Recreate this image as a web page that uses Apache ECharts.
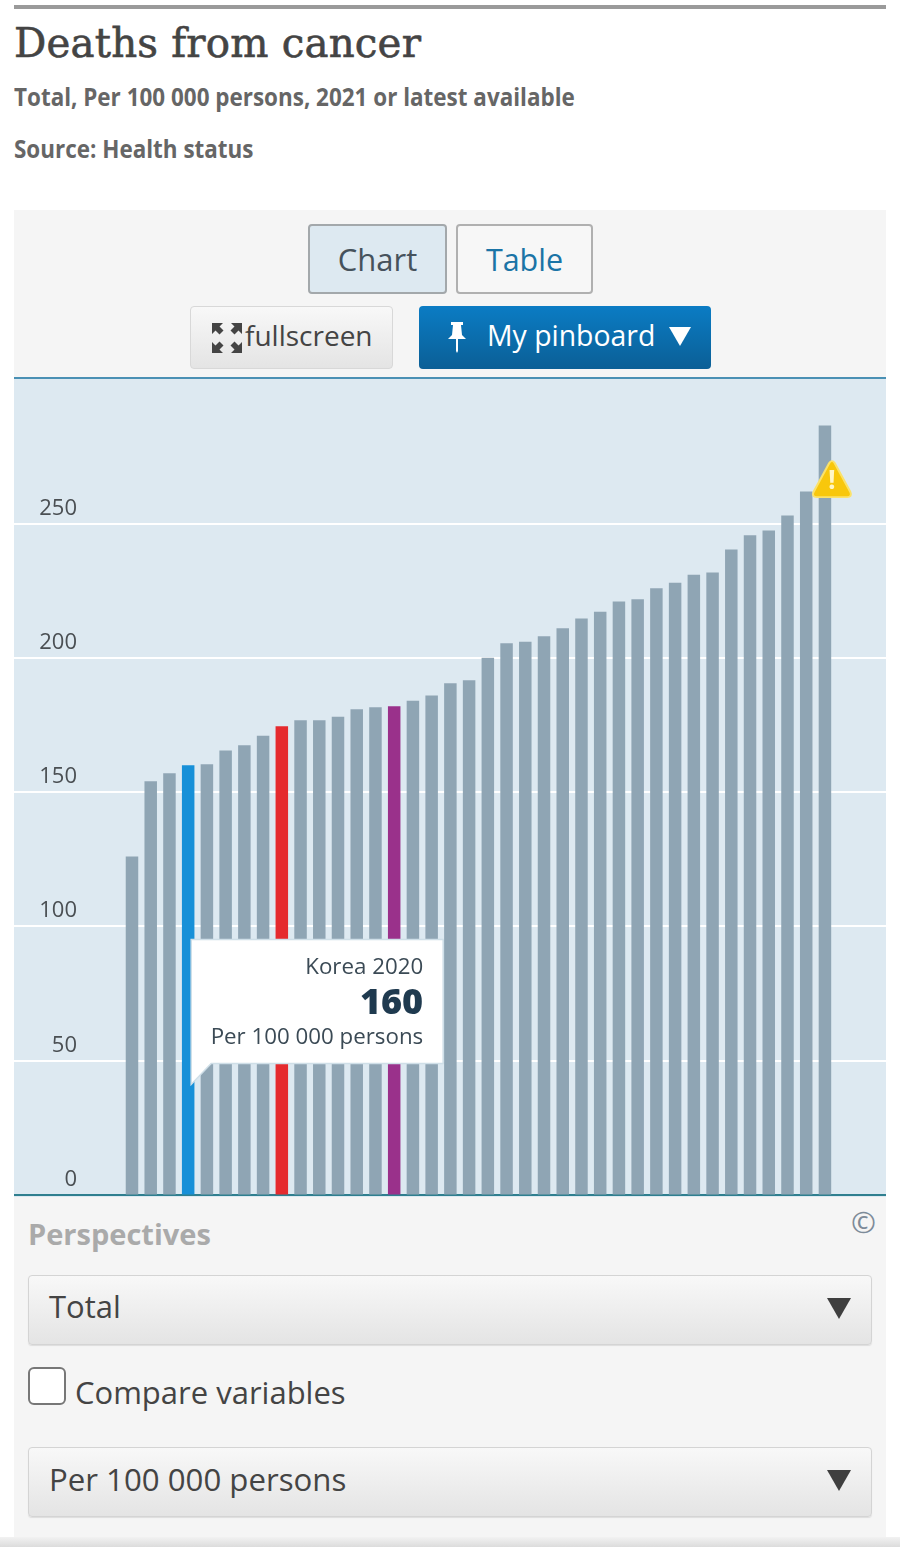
<!DOCTYPE html>
<html><head><meta charset="utf-8">
<script src="https://cdn.jsdelivr.net/npm/echarts@6/dist/echarts.min.js"></script>
<style>
html,body{margin:0;padding:0;background:#fff;width:900px;height:1562px;overflow:hidden;font-family:"Open Sans",sans-serif}
.a{position:absolute;box-sizing:border-box}
.t{position:absolute;white-space:nowrap;line-height:1}
.sub{font-weight:700;font-size:24.5px;color:#666;transform:scaleX(.916);transform-origin:left center}
.btn{display:flex;align-items:center;justify-content:center;white-space:nowrap}
.sel{left:28px;width:844px;height:70px;border:1px solid #d4d4d4;border-radius:4px;background:linear-gradient(#f8f8f8,#e4e4e4);box-shadow:0 1px 1px #ddd}
.arrow{position:absolute;width:0;height:0;border-left:12px solid transparent;border-right:12px solid transparent;border-top:21px solid #3f3f3f}
</style></head><body>
<div class="a" style="left:14px;top:5px;width:872px;height:4px;background:#9a9a9a"></div>
<div class="t" style="left:14px;top:24px;font-family:'DejaVu Serif';font-size:40.3px;color:#444;letter-spacing:0.2px;-webkit-text-stroke:0.6px #444">Deaths from cancer</div>
<div class="t sub" style="left:14px;top:85px">Total, Per 100 000 persons, 2021 or latest available</div>
<div class="t sub" style="left:14px;top:137px">Source: Health status</div>

<div class="a" style="left:14px;top:210px;width:872px;height:1327px;background:#f5f5f5"></div>
<div class="a btn" style="left:308px;top:224px;width:139px;height:70px;background:#dde9f1;border:2px solid #a3a8ab;border-radius:4px;font-size:31px;color:#46525c">Chart</div>
<div class="a btn" style="left:456px;top:224px;width:137px;height:70px;background:#f7f7f7;border:2px solid #b0b0b0;border-radius:4px;font-size:30.500px;color:#1b74a6">Table</div>
<div class="a" style="left:190px;top:306px;width:203px;height:63px;background:linear-gradient(#f8f8f8,#e4e4e4);border:1px solid #d8d8d8;border-radius:4px"></div>
<svg class="a" style="left:211px;top:322px" width="32" height="32" viewBox="0 0 32 32" fill="#444"><path d="M1 1h11L8.5 4.5l4 4-4 4-4-4L1 12zM31 1v11l-3.500-3.500-4 4-4-4 4-4L20 1zM1 31V20l3.500 3.500 4-4 4 4-4 4L12 31zM31 31H20l3.500-3.500-4-4 4-4 4 4L31 20z"/></svg>
<div class="t" style="left:245px;top:321px;font-size:28px;color:#444">fullscreen</div>
<div class="a" style="left:419px;top:306px;width:292px;height:63px;background:linear-gradient(#0b7cc4,#0b5f96);border-radius:4px"></div>
<svg class="a" style="left:446px;top:321px" width="22" height="32" viewBox="0 0 22 32" fill="#fff"><path d="M5 1h12v3h-2l1 10 4 4H2l4-4 1-10H5zM10 18h2v12l-1 2-1-2z"/></svg>
<div class="t" style="left:487px;top:321px;font-size:28.4px;color:#fff">My pinboard</div>
<div class="arrow" style="left:669px;top:327px;border-left-width:11px;border-right-width:11px;border-top:19px solid #fff"></div>

<div id="chart" class="a" style="left:14px;top:377px;width:872px;height:820px;background:#dde9f1;overflow:hidden;border-top:2px solid #4a90b4"></div>

<div class="t" style="left:28px;top:1219px;font-weight:700;font-size:29px;color:#aaa">Perspectives</div>
<div class="t" style="left:851px;top:1207px;font-size:30px;color:#7d8b99">©</div>
<div class="a sel" style="top:1275px"></div>
<div class="t" style="left:49px;top:1291px;font-size:31px;color:#444">Total</div>
<div class="arrow" style="left:827px;top:1298px"></div>
<div class="a" style="left:28px;top:1367px;width:38px;height:38px;background:#fff;border:2px solid #777;border-radius:6px"></div>
<div class="t" style="left:75px;top:1377px;font-size:31px;color:#444">Compare variables</div>
<div class="a sel" style="top:1447px"></div>
<div class="t" style="left:49px;top:1464px;font-size:31.2px;color:#444">Per 100 000 persons</div>
<div class="arrow" style="left:827px;top:1470px"></div>
<div class="a" style="left:0;top:1537px;width:900px;height:10px;background:linear-gradient(#f2f2f2,#dcdcdc)"></div>

<script>
const categories = ['1','2','3','Korea','5','6','7','8','9','10','11','12','13','14','15','16','17','18','19','20','21','22','23','24','25','26','27','28','29','30','31','32','33','34','35','36','37','38'];
const values = [126,154,157,160,160.3,165.5,167.4,171,174.5,176.7,176.7,178,180.8,181.6,182,184,186,190.5,191.6,200,205.4,206,208,211,214.7,217.2,221,221.8,225.9,228,231,231.8,240.4,245.7,247.5,253,262,286.6];
const yTicks = [0,50,100,150,200,250];
const highlights = {3:'#1790d8',8:'#e52a2e',14:'#9a318b'};
const baseColor = '#8fa5b4';
const tipTitle = 'Korea 2020', tipValue = '160', tipUnit = 'Per 100 000 persons';

const chart = echarts.init(document.getElementById('chart'), null, {renderer:'canvas'});
const tipIndex = categories.indexOf('Korea');
chart.setOption({
  animation:false,
  grid:{left:0,right:0,top:10.5,bottom:2.5,containLabel:false},
  xAxis:{type:'value',min:-6.3,max:40.26,show:true,splitLine:{show:false},axisTick:{show:false},axisLabel:{show:false},
    axisLine:{show:true,onZero:false,lineStyle:{color:'#2f7f8f',width:2}}},
  yAxis:{type:'value',min:0,max:300,interval:50,axisLine:{show:false},axisTick:{show:false},
    splitLine:{show:true,showMaxLine:false,showMinLine:false,lineStyle:{color:'#ffffff',width:2}},
    axisLabel:{show:true,inside:true,showMaxLabel:false,margin:63,align:'right',verticalAlign:'bottom',padding:[0,0,4,0],
      fontFamily:'Open Sans',fontSize:22,color:'#4a4f53',
      formatter:v=>yTicks.includes(v)?String(v):''}},
  series:[{type:'bar',barWidth:12.5,
    data:values.map((v,i)=>({value:[i,v],itemStyle:{color:highlights[i]||baseColor}})),
    markPoint:{silent:true,data:[{coord:[categories.length-1,values[values.length-1]-20],
      symbol:'path://M50 3 C53 3 55 5 57 8 L98 82 C102 90 98 95 90 95 L10 95 C2 95 -2 90 2 82 L43 8 C45 5 47 3 50 3Z',
      symbolSize:[38,36],symbolKeepAspect:false,symbolOffset:[7,0],
      itemStyle:{color:'#f8c70c',borderColor:'#fbe26a',borderWidth:2},
      label:{show:true,formatter:'!',color:'#fff6c8',fontSize:27,fontWeight:700,fontFamily:'Open Sans',position:'inside',offset:[0,2]}}]}
  }]
});
const p = chart.convertToPixel({gridIndex:0},[tipIndex,41]);
const ax = p[0]+3, ay = p[1];   // tail tip, anchored to the Korea bar
const bx = ax, by = ay-145, bw = 252, bh = 124;
chart.setOption({graphic:[
  {type:'polygon',z:100,shape:{points:[[bx,by],[bx+bw,by],[bx+bw,by+bh],[bx+20,by+bh],[ax,ay],[bx,by+bh]]},
    style:{fill:'#ffffff',stroke:'#cfdfe8',lineWidth:1.5}},
  {type:'text',z:101,x:bx+232,y:by+28,style:{text:tipTitle,align:'right',verticalAlign:'middle',fontFamily:'Open Sans',fontSize:22.300,fill:'#3b4a55'}},
  {type:'text',z:101,x:bx+232,y:by+64,style:{text:tipValue,align:'right',verticalAlign:'middle',fontFamily:'Open Sans',fontWeight:800,fontSize:36,fill:'#1f3a4f'}},
  {type:'text',z:101,x:bx+232,y:by+98,style:{text:tipUnit,align:'right',verticalAlign:'middle',fontFamily:'Open Sans',fontSize:22.300,fill:'#3b4a55'}}
]});
</script>
</body></html>
